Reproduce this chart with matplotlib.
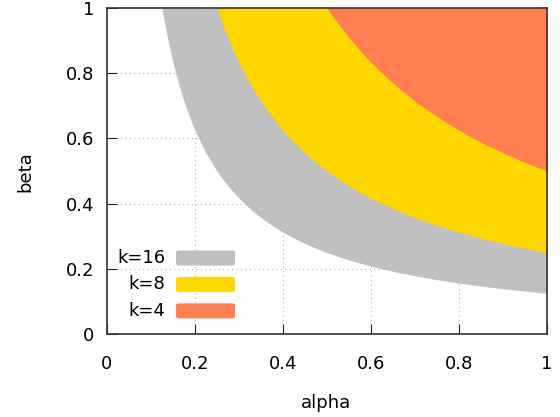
import numpy as np
import matplotlib
matplotlib.use("Agg")
import matplotlib.pyplot as plt
from matplotlib.patches import FancyBboxPatch

labels = ["k=16", "k=8", "k=4"]
thresholds = [0.125, 0.25, 0.5]   # region where alpha*beta >= threshold (2/k)
colors = ["#c0c0c0", "#ffd700", "#ff7f50"]
ticks = [0, 0.2, 0.4, 0.6, 0.8, 1]
tick_labels = ["0", "0.2", "0.4", "0.6", "0.8", "1"]

plt.rcParams['font.family'] = ['DejaVu Sans']
fig = plt.figure(figsize=(5.6, 4.17), dpi=100)
ax = fig.add_axes([0.191, 0.199, 0.786, 0.782])

alpha = np.linspace(0.001, 1, 2000)
for t, c in zip(thresholds, colors):
    ax.fill_between(alpha, np.clip(t / alpha, 0, 1), 1, where=(t / alpha) <= 1,
                    color=c, lw=0, zorder=2)

ax.set_xlim(0, 1)
ax.set_ylim(0, 1)
ax.set_xticks(ticks)
ax.set_yticks(ticks)
ax.set_xticklabels(tick_labels)
ax.set_yticklabels(tick_labels)
ax.grid(True, color="#b0b0b0", linestyle=(0, (1, 3)), lw=0.8, zorder=1)
ax.tick_params(direction="in", length=7, labelsize=13, color="#222222")
ax.tick_params(axis="x", pad=15)
ax.tick_params(axis="y", pad=9)
for s in ax.spines.values():
    s.set_color("#333333")
    s.set_linewidth(1.2)
    s.set_zorder(5)
fig.text(326 / 560, 1 - 403 / 417, "alpha", ha="center", va="center", fontsize=13)
fig.text(25 / 560, 1 - 172 / 417, "beta", ha="center", va="center", fontsize=13,
         rotation=90)

# legend (gnuplot-style, bottom left)
for i, (lab, c) in enumerate(zip(labels, colors)):
    y = 0.233 - i * 0.081
    ax.text(0.132, y, lab, ha="right", va="center", fontsize=13, zorder=6,
            transform=ax.transAxes)
    box = FancyBboxPatch((0.157, y - 0.023), 0.134, 0.046,
                         boxstyle="round,pad=0,rounding_size=0.006",
                         transform=ax.transAxes, fc=c, ec="none", zorder=6)
    ax.add_patch(box)

fig.savefig("out.png", dpi=100)
